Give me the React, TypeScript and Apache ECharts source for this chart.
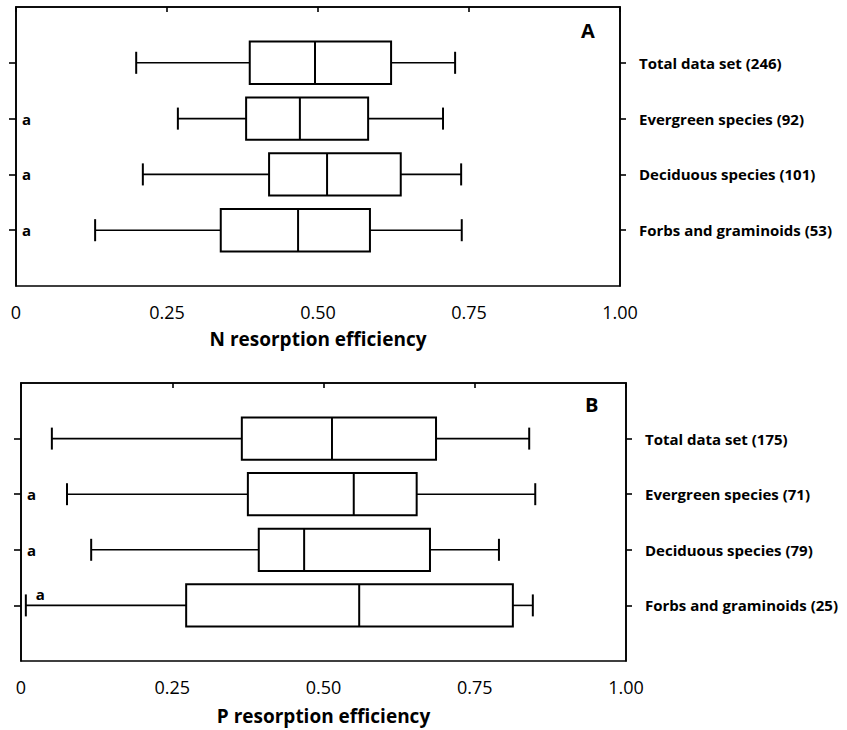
import React, { useEffect, useRef } from 'react';
import * as echarts from 'echarts';

// Category labels (right-hand side), top to bottom
const categoriesN = [
  'Total data set (246)',
  'Evergreen species (92)',
  'Deciduous species (101)',
  'Forbs and graminoids (53)',
];
const categoriesP = [
  'Total data set (175)',
  'Evergreen species (71)',
  'Deciduous species (79)',
  'Forbs and graminoids (25)',
];

// Box statistics: [whisker low, Q1, median, Q3, whisker high]
const boxN = [
  [0.199, 0.387, 0.495, 0.621, 0.727],
  [0.268, 0.381, 0.47, 0.583, 0.707],
  [0.21, 0.419, 0.515, 0.637, 0.737],
  [0.131, 0.339, 0.467, 0.586, 0.738],
];
const boxP = [
  [0.051, 0.365, 0.514, 0.686, 0.84],
  [0.076, 0.375, 0.55, 0.654, 0.85],
  [0.116, 0.393, 0.468, 0.676, 0.79],
  [0.008, 0.273, 0.559, 0.813, 0.846],
];

// Significance letters per category
const lettersN = ['', 'a', 'a', 'a'];
const lettersP = ['', 'a', 'a', 'a'];

const xTickValues = [0, 0.25, 0.5, 0.75, 1.0];
const xTitles = ['N resorption efficiency', 'P resorption efficiency'];
const panelLabels = ['A', 'B'];

const FONT = '"Open Sans", "Noto Sans", sans-serif';
const LW = 1.6;

function makeData(box: number[][], letters: string[]) {
  return box.map((b, i) => ({ value: [i + 1, ...b], letter: letters[i] }));
}

export default function App() {
  const ref = useRef<HTMLDivElement>(null);

  useEffect(() => {
    if (!ref.current) return;
    const chart = echarts.init(ref.current, null, { renderer: 'svg' });

    const panels = [
      { box: boxN, letters: lettersN, cats: categoriesN },
      { box: boxP, letters: lettersP, cats: categoriesP },
    ];

    const grids = [
      { left: 16, top: 7, width: 604, height: 279 },
      { left: 21, top: 383, width: 605, height: 278 },
    ];
    const nameGaps = [43, 45];

    const xAxes: any[] = [];
    const yAxes: any[] = [];
    const series: any[] = [];

    panels.forEach((p, gi) => {
      const data = makeData(p.box, p.letters);
      xAxes.push({
        type: 'value',
        gridIndex: gi,
        min: 0,
        max: 1,
        interval: 0.25,
        splitLine: { show: false },
        axisLine: { show: true, lineStyle: { color: '#000', width: LW } },
        axisTick: { show: true, length: 5, lineStyle: { color: '#000', width: LW } },
        axisLabel: {
          color: '#000',
          fontFamily: FONT,
          fontSize: 18,
          margin: 17,
          formatter: (v: number) =>
            xTickValues.includes(v) ? (v === 0 ? '0' : v.toFixed(2)) : '',
        },
        name: xTitles[gi],
        nameLocation: 'middle',
        nameGap: nameGaps[gi],
        nameTextStyle: {
          color: '#000',
          fontFamily: FONT,
          fontSize: 19,
          fontWeight: 'bold',
        },
      });
      // left axis: ticks only
      yAxes.push({
        type: 'value',
        gridIndex: gi,
        position: 'left',
        min: 0,
        max: 5,
        inverse: true,
        splitLine: { show: false },
        axisLine: { show: true, lineStyle: { color: '#000', width: LW } },
        axisTick: {
          show: true,
          length: 7,
          customValues: [1, 2, 3, 4],
          lineStyle: { color: '#000', width: LW },
        },
        axisLabel: { show: false },
      });
      // right axis: category labels
      yAxes.push({
        type: 'value',
        gridIndex: gi,
        position: 'right',
        min: 0,
        max: 5,
        inverse: true,
        splitLine: { show: false },
        axisLine: { show: true, lineStyle: { color: '#000', width: LW } },
        axisTick: {
          show: true,
          length: 6,
          customValues: [1, 2, 3, 4],
          lineStyle: { color: '#000', width: LW },
        },
        axisLabel: {
          show: true,
          customValues: [1, 2, 3, 4],
          formatter: (v: number) => p.cats[Math.round(v) - 1] ?? '',
          color: '#000',
          fontFamily: FONT,
          fontSize: 15,
          fontWeight: 'bold',
          margin: 19,
        },
      });

      series.push({
        type: 'custom',
        xAxisIndex: gi,
        yAxisIndex: gi * 2,
        clip: false,
        encode: { x: [1, 2, 3, 4, 5], y: 0 },
        data,
        renderItem: (params: any, api: any) => {
          const yv = api.value(0);
          const lo = api.coord([api.value(1), yv]);
          const q1 = api.coord([api.value(2), yv]);
          const med = api.coord([api.value(3), yv]);
          const q3 = api.coord([api.value(4), yv]);
          const hi = api.coord([api.value(5), yv]);
          const zero = api.coord([0, yv]);
          const bh = api.size([0, 0.76])[1];
          const capH = bh * 0.52;
          const cy = lo[1];
          const style = { stroke: '#000', lineWidth: LW, fill: 'none' };
          const children: any[] = [
            { type: 'line', shape: { x1: lo[0], y1: cy, x2: q1[0], y2: cy }, style },
            { type: 'line', shape: { x1: q3[0], y1: cy, x2: hi[0], y2: cy }, style },
            { type: 'line', shape: { x1: lo[0], y1: cy - capH / 2, x2: lo[0], y2: cy + capH / 2 }, style: { ...style, lineWidth: 2 } },
            { type: 'line', shape: { x1: hi[0], y1: cy - capH / 2, x2: hi[0], y2: cy + capH / 2 }, style: { ...style, lineWidth: 2 } },
            {
              type: 'rect',
              shape: { x: q1[0], y: cy - bh / 2, width: q3[0] - q1[0], height: bh },
              style: { stroke: '#000', lineWidth: LW + 0.4, fill: '#fff' },
            },
            { type: 'line', shape: { x1: med[0], y1: cy - bh / 2, x2: med[0], y2: cy + bh / 2 }, style: { ...style, lineWidth: 2 } },
          ];
          const item = data[params.dataIndex];
          const txt = item && item.letter;
          if (txt) {
            const crowded = lo[0] - zero[0] < 24;
            children.push({
              type: 'text',
              x: crowded ? lo[0] + 10 : zero[0] + 6,
              y: crowded ? cy - 11 : cy,
              style: {
                text: txt,
                fill: '#000',
                font: `bold 15px ${FONT}`,
                align: 'left',
                verticalAlign: 'middle',
              },
            });
          }
          return { type: 'group', children };
        },
      });
    });

    chart.setOption({
      animation: false,
      backgroundColor: '#fff',
      title: panelLabels.map((t, i) => ({
        text: t,
        left: i === 0 ? 581 : 585,
        top: i === 0 ? 20 : 394,
        padding: 0,
        textStyle: { fontFamily: FONT, fontSize: 20, fontWeight: 'bold', color: '#000' },
      })),
      grid: grids.map((g) => ({
        ...g,
        show: true,
        borderColor: '#000',
        borderWidth: LW,
        backgroundColor: 'transparent',
        containLabel: false,
      })),
      xAxis: xAxes,
      yAxis: yAxes,
      series,
    });

    return () => chart.dispose();
  }, []);

  return (
    <div
      ref={ref}
      style={{ position: 'fixed', left: 0, top: 0, width: 847, height: 730 }}
    />
  );
}
